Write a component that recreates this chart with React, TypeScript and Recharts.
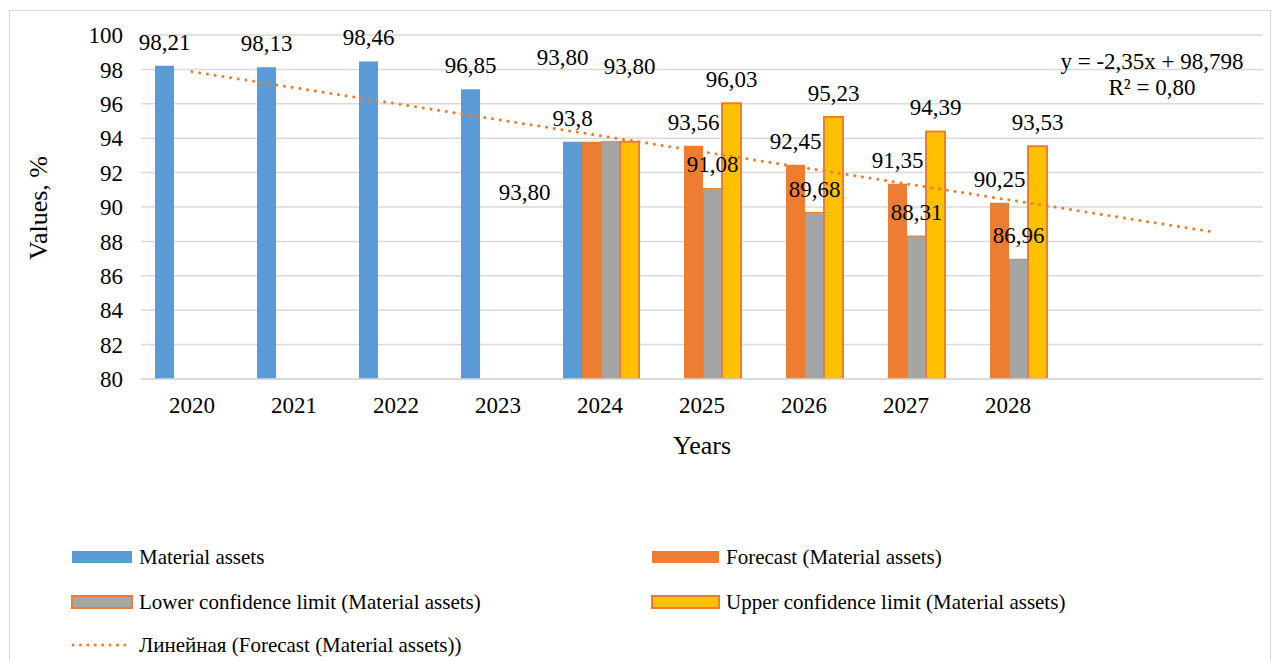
import { ComposedChart, Bar, Line, XAxis, YAxis, CartesianGrid, LabelList, Legend, Label } from "recharts";

const years = [2020, 2021, 2022, 2023, 2024, 2025, 2026, 2027, 2028, 2029, 2030];
const lastYear = 2028;
const materialAssets = [98.21, 98.13, 98.46, 96.85, 93.8, null, null, null, null, null, null];
const forecast = [null, null, null, null, 93.8, 93.56, 92.45, 91.35, 90.25, null, null];
const lowerLimit = [null, null, null, null, 93.8, 91.08, 89.68, 88.31, 86.96, null, null];
const upperLimit = [null, null, null, null, 93.8, 96.03, 95.23, 94.39, 93.53, null, null];
// linear trend of the forecast, ends
const trend = [97.87, null, null, null, null, null, null, null, null, null, 88.56];
const yTicks = [80, 82, 84, 86, 88, 90, 92, 94, 96, 98, 100];

const names = {
    material: "Material assets",
    forecast: "Forecast (Material assets)",
    lower: "Lower confidence limit (Material assets)",
    upper: "Upper confidence limit (Material assets)",
    trend: "Линейная (Forecast (Material assets))",
};
const equation = ["y = -2,35x + 98,798", "R² = 0,80"];

const BLUE = "#5B9BD5";
const ORANGE = "#ED7D31";
const GRAY = "#A5A5A5";
const YELLOW = "#FFC000";
const GRID = "#D9D9D9";
const FONT = "'Liberation Serif', 'Times New Roman', serif";

const data = years.map((year, i) => ({
    year,
    material: materialAssets[i],
    forecast: forecast[i],
    lower: lowerLimit[i],
    upper: upperLimit[i],
    trend: trend[i],
}));

// the 2024 labels were dragged around by hand in the original
const moved2024: Record<string, { dx: number; dy: number }> = {
    material: { dx: -48, dy: 74 },
    forecast: { dx: -19, dy: 0 },
    lower: { dx: -48, dy: -61 },
    upper: { dx: 0, dy: -52 },
};

const fixed2 = (v: number) => v.toFixed(2).replace(".", ",");
const general = (v: number) => String(v).replace(".", ",");

function barLabel(key: string, values: (number | null)[], format: (v: number) => string) {
    // LabelList index counts only the bars that are drawn
    const drawnYears = years.filter((_, i) => values[i] != null);
    return (props: any) => {
        const { x, y, width, value, index } = props;
        if (value == null) return null;
        const year = props.payload?.year ?? drawnYears[index];
        const move = year === 2024 ? moved2024[key] : { dx: 0, dy: 0 };
        return (
            <text
                x={Number(x) + Number(width) / 2 + move.dx}
                y={Number(y) - 16 + move.dy}
                textAnchor="middle"
                fontSize={23}
                fontFamily={FONT}
                fill="#000"
            >
                {format(value)}
            </text>
        );
    };
}

function LegendIcon({ w, fill, stroke, dotted }: { w: number; fill?: string; stroke?: string; dotted?: boolean }) {
    return (
        <svg width={w + 2} height={14} style={{ display: "block" }}>
            {dotted ? (
                <line x1={2} y1={7} x2={w} y2={7} stroke={ORANGE} strokeWidth={3} strokeDasharray="0.1 7.3" strokeLinecap="round" />
            ) : (
                <rect x={1} y={1} width={w} height={12} fill={fill} stroke={stroke ?? "none"} strokeWidth={2} />
            )}
        </svg>
    );
}

function renderLegend() {
    const items = [
        { name: names.material, left: 61, top: 546, icon: <LegendIcon w={60} fill={BLUE} /> },
        { name: names.forecast, left: 641, top: 546, icon: <LegendIcon w={67} fill={ORANGE} /> },
        { name: names.lower, left: 61, top: 591, icon: <LegendIcon w={60} fill={GRAY} stroke={ORANGE} /> },
        { name: names.upper, left: 641, top: 591, icon: <LegendIcon w={67} fill={YELLOW} stroke={ORANGE} /> },
        { name: names.trend, left: 61, top: 634, icon: <LegendIcon w={60} dotted /> },
    ];
    return (
        <div style={{ position: "relative", width: 1260, height: 650 }}>
            {items.map((it) => (
                <div
                    key={it.name}
                    style={{
                        position: "absolute",
                        left: it.left,
                        top: it.top - 12,
                        height: 24,
                        display: "flex",
                        alignItems: "center",
                        gap: 6,
                        fontSize: 21,
                        fontFamily: FONT,
                        color: "#000",
                        whiteSpace: "nowrap",
                    }}
                >
                    {it.icon}
                    <span>{it.name}</span>
                </div>
            ))}
        </div>
    );
}

export default function App() {
    return (
        <div
            style={{
                position: "relative",
                left: 1,
                top: 2,
                width: 1260,
                height: 650,
                border: `1px solid ${GRID}`,
                background: "#fff",
            }}
        >
            <ComposedChart
                width={1260}
                height={650}
                data={data}
                margin={{ top: 24, right: 7, left: 0, bottom: 202 }}
                barGap={0}
                barCategoryGap={14}
            >
                <CartesianGrid vertical={false} stroke={GRID} strokeWidth={1.5} />
                <XAxis
                    dataKey="year"
                    height={80}
                    tickFormatter={(v: number) => (v <= lastYear ? String(v) : "")}
                    tickLine={false}
                    tickSize={0}
                    tickMargin={18}
                    axisLine={{ stroke: GRID, strokeWidth: 1.5 }}
                    tick={{ fill: "#000", fontSize: 23, fontFamily: FONT }}
                    interval={0}
                >
                    <Label
                        content={() => (
                            <text x={692} y={443} textAnchor="middle" fontSize={26} fontFamily={FONT} fill="#000">
                                Years
                            </text>
                        )}
                    />
                </XAxis>
                <YAxis
                    width={131}
                    domain={[80, 100]}
                    ticks={yTicks}
                    allowDataOverflow
                    tickLine={false}
                    tickSize={0}
                    tickMargin={18}
                    axisLine={false}
                    tick={{ fill: "#000", fontSize: 23, fontFamily: FONT }}
                >
                    <Label
                        content={() => (
                            <text
                                x={0}
                                y={0}
                                transform="translate(37 197) rotate(-90)"
                                textAnchor="middle"
                                fontSize={26}
                                fontFamily={FONT}
                                fill="#000"
                            >
                                Values, %
                            </text>
                        )}
                    />
                </YAxis>
                <Legend layout="horizontal" verticalAlign="middle" align="center" content={renderLegend}
                    wrapperStyle={{ left: 0, top: 0, width: 1260, height: 650, pointerEvents: "none" }} />
                <Bar dataKey="material" name={names.material} fill={BLUE} isAnimationActive={false}>
                    <LabelList dataKey="material" content={barLabel("material", materialAssets, fixed2)} />
                </Bar>
                <Bar dataKey="forecast" name={names.forecast} fill={ORANGE} isAnimationActive={false}>
                    <LabelList dataKey="forecast" content={barLabel("forecast", forecast, general)} />
                </Bar>
                <Bar dataKey="lower" name={names.lower} fill={GRAY} stroke={ORANGE} strokeWidth={1} isAnimationActive={false}>
                    <LabelList dataKey="lower" content={barLabel("lower", lowerLimit, fixed2)} />
                </Bar>
                <Bar dataKey="upper" name={names.upper} fill={YELLOW} stroke={ORANGE} strokeWidth={2} isAnimationActive={false}>
                    <LabelList dataKey="upper" content={barLabel("upper", upperLimit, fixed2)} />
                </Bar>
                <Line
                    dataKey="trend"
                    name={names.trend}
                    stroke={ORANGE}
                    strokeWidth={3}
                    strokeDasharray="0.1 7.7"
                    strokeLinecap="round"
                    dot={false}
                    activeDot={false}
                    connectNulls
                    legendType="none"
                    isAnimationActive={false}
                />
            </ComposedChart>
            {equation.map((line, i) => (
                <div
                    key={line}
                    style={{
                        position: "absolute",
                        left: 1042,
                        width: 200,
                        top: 51 + i * 26 - 13,
                        lineHeight: "26px",
                        textAlign: "center",
                        fontSize: 23,
                        fontFamily: FONT,
                        color: "#000",
                        whiteSpace: "nowrap",
                    }}
                >
                    {line}
                </div>
            ))}
        </div>
    );
}
